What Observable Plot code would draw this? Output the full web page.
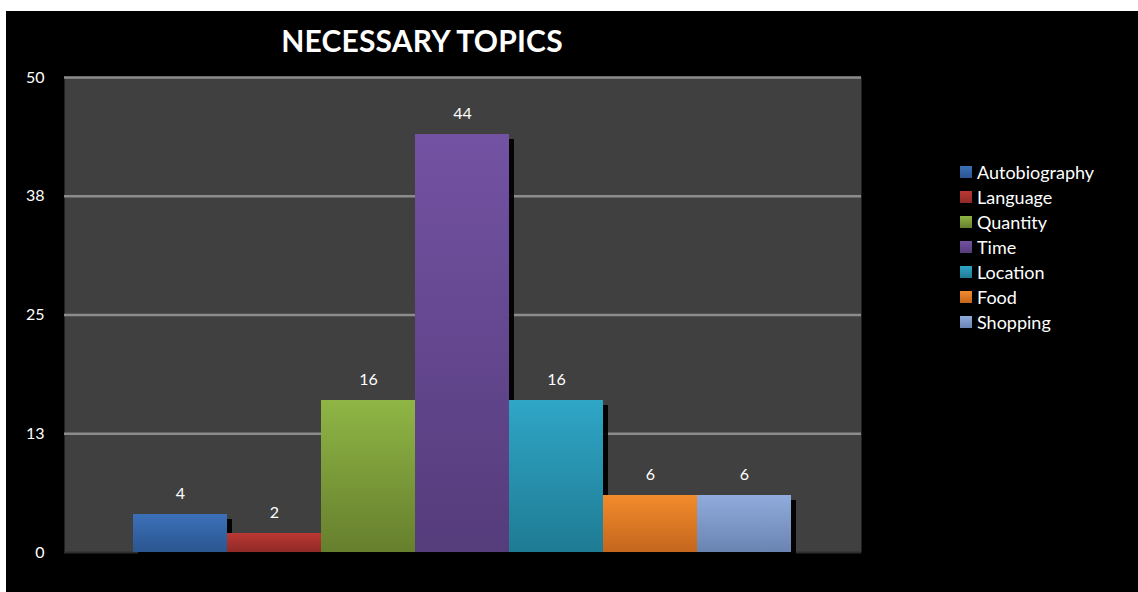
<!DOCTYPE html>
<html>
<head>
<meta charset="utf-8">
<script src="https://cdn.jsdelivr.net/npm/d3@7"></script>
<script src="https://cdn.jsdelivr.net/npm/@observablehq/plot@0.6"></script>
<style>
  html, body { margin: 0; padding: 0; background: #ffffff; }
  #wrap { position: relative; width: 1138px; height: 592px; overflow: hidden; background: #ffffff; font-family: Lato, "Open Sans", sans-serif; }
  #bg { position: absolute; left: 6px; top: 11px; width: 1132px; height: 581px; background: #000000; }
  #title { position: absolute; left: 222px; width: 400px; top: 22px; text-align: center; color: #ffffff; font-weight: 700; font-size: 30px; letter-spacing: 0.2px; }
  #chart { position: absolute; left: 0; top: 0; }
  #legend { position: absolute; left: 960px; top: 159px; color: #ffffff; font-size: 18px; }
  .li { height: 25px; line-height: 22px; display: flex; align-items: center; }
  .sw { width: 12px; height: 12px; margin-right: 5px; }
</style>
</head>
<body>
<div id="wrap">
  <div id="bg"></div>
  <div id="title">NECESSARY TOPICS</div>
  <div id="chart"></div>
  <div id="legend"></div>
</div>
<svg width="0" height="0" style="position:absolute" id="defs"></svg>
<script>
const categories = ["Autobiography", "Language", "Quantity", "Time", "Location", "Food", "Shopping"];
const values = [4, 2, 16, 44, 16, 6, 6];
const topColors = ["#3b70b8", "#bb3833", "#8fb545", "#7352a3", "#2fa6c6", "#f28b2c", "#90acdc"];
const bottomColors = ["#2b5690", "#8f2a27", "#667f2d", "#553c7b", "#1f7b94", "#c4661c", "#6a84b2"];
const yTicks = [0, 12.5, 25, 37.5, 50];
const yTickLabels = ["0", "13", "25", "38", "50"];

// gradient defs
const defs = d3.select("#defs").append("defs");
categories.forEach((c, i) => {
  const g = defs.append("linearGradient").attr("id", "g" + i)
    .attr("x1", 0).attr("y1", 0).attr("x2", 0).attr("y2", 1);
  g.append("stop").attr("offset", "0%").attr("stop-color", topColors[i]);
  g.append("stop").attr("offset", "100%").attr("stop-color", bottomColors[i]);
});
defs.append("filter").attr("id", "blur").append("feGaussianBlur").attr("stdDeviation", 1.2);
const data = categories.map((c, i) => ({category: c, value: values[i]}));

const chart = Plot.plot({
  width: 1138,
  height: 592,
  marginLeft: 64,
  marginRight: 277,
  marginTop: 77,
  marginBottom: 40,
  style: {background: "transparent", fontFamily: "Lato, 'Open Sans', sans-serif"},
  x: {domain: categories, padding: 0, insetLeft: 69, insetRight: 70, axis: null},
  y: {domain: [0, 50]},
  color: {type: "ordinal", domain: categories, range: categories.map((c, i) => `url(#g${i})`)},
  marks: [
    Plot.frame({fill: "#404040", stroke: null}),
    Plot.ruleY(yTicks.filter(d => d > 0), {stroke: "#8c8c8c", strokeWidth: 2.5}),
    Plot.ruleY([0], {stroke: "#2e2e2e", strokeWidth: 2}),
    Plot.barY(data, {x: "category", y: "value", fill: "#000", dx: 5, dy: 5, fillOpacity: 0.95, ariaLabel: "shadow"}),
    Plot.barY(data, {x: "category", y: "value", fill: "category"}),
    Plot.text(data, {x: "category", y: "value", text: d => String(d.value), dy: -21, fill: "#ffffff", fontSize: 16}),
    Plot.axisY({ticks: yTicks, tickFormat: (d) => yTickLabels[yTicks.indexOf(d)], tickSize: 0, tickPadding: 20, fontSize: 16, fill: "#ffffff", color: "#ffffff", label: null})
  ]
});
d3.select(chart).selectAll("g[aria-label=shadow]").attr("filter", "url(#blur)");
document.getElementById("chart").appendChild(chart);

const legend = d3.select("#legend");
categories.forEach((c, i) => {
  const row = legend.append("div").attr("class", "li");
  row.append("div").attr("class", "sw").style("background", `linear-gradient(${topColors[i]}, ${bottomColors[i]})`);
  row.append("span").text(c);
});
</script>
</body>
</html>
